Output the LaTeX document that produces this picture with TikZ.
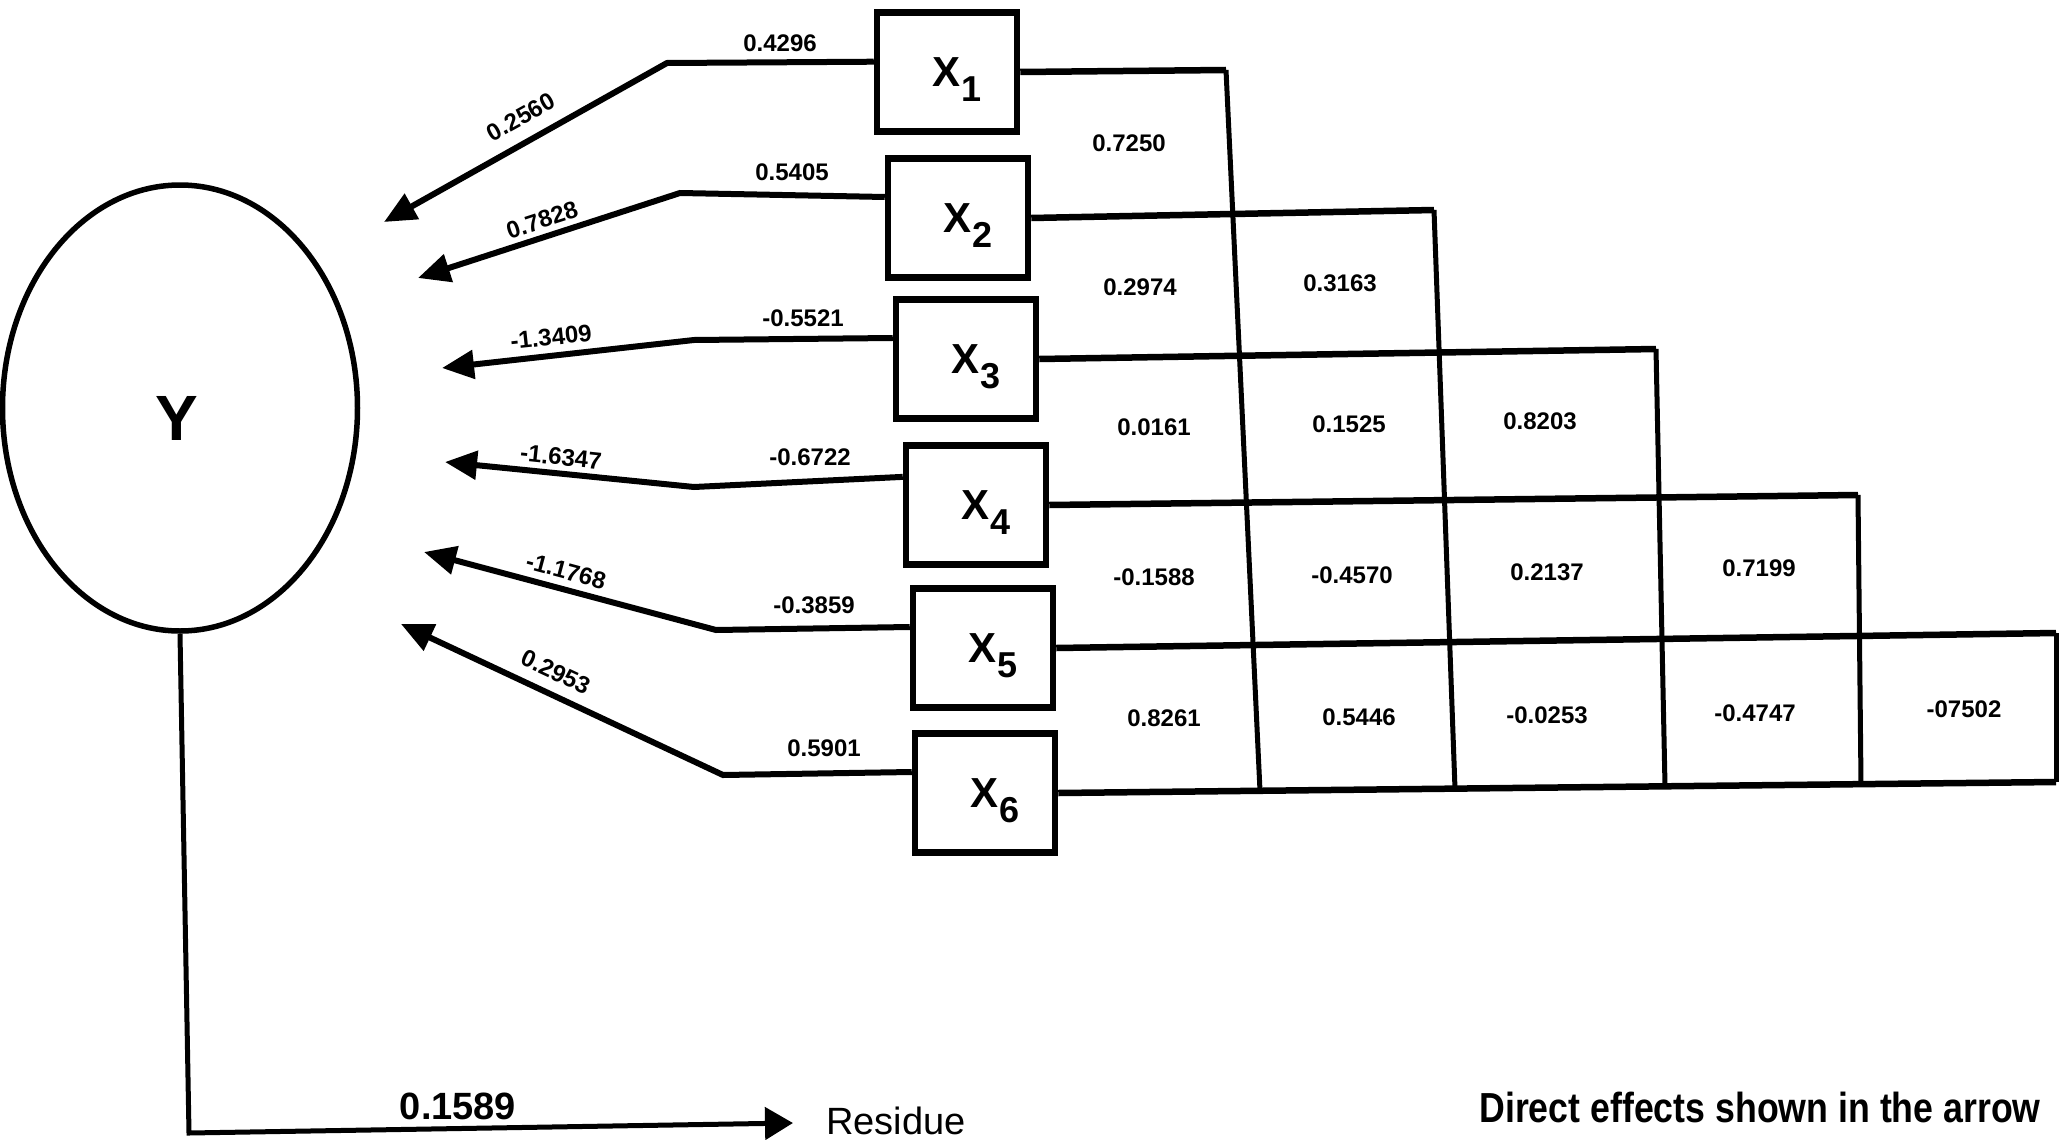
\documentclass[tikz,border=0pt]{standalone}
\usepackage{fontspec}
\setmainfont{Liberation Sans}
\usetikzlibrary{arrows.meta,shapes.geometric}
\newcommand\xlab[1]{\kern20ptX\smash{\raisebox{-15pt}{\fontsize{36}{36}\selectfont #1}}}
\begin{document}
\begin{tikzpicture}[x=1pt,y=-1pt,
  val/.style={font=\fontsize{24}{25}\selectfont\bfseries, inner sep=0pt},
  xbox/.style={draw, line width=6.5pt, minimum width=140pt, minimum height=119pt, inner sep=0pt, font=\fontsize{42}{44}\selectfont\bfseries},
  arr/.style={line width=6pt, -{Triangle[length=32pt,width=28pt]}},
  hline/.style={line width=6.5pt},
  vline/.style={line width=5pt},
  resline/.style={line width=5pt, -{Triangle[length=28pt,width=32pt]}}
]
\useasboundingbox (0,0) rectangle (2072,1140);

% dependent variable
\node[ellipse, draw, line width=5.5pt, minimum width=355pt, minimum height=446pt, inner sep=0pt] (Y) at (180,408) {};
\node[inner sep=0pt, font=\fontsize{64}{66}\selectfont\bfseries] (Ylab) at (177,418) {Y};

% predictor boxes
\node[xbox] (X1) at (947,72)  {\xlab{1}};
\node[xbox] (X2) at (958,218) {\xlab{2}};
\node[xbox] (X3) at (966,359) {\xlab{3}};
\node[xbox] (X4) at (976,505) {\xlab{4}};
\node[xbox] (X5) at (983,648) {\xlab{5}};
\node[xbox] (X6) at (985,793) {\xlab{6}};

% bends and tips of the direct-effect arrows
\coordinate (b1) at (667,63);  \coordinate (t1) at (384,222);
\coordinate (b2) at (680,193); \coordinate (t2) at (418,278);
\coordinate (b3) at (694,340); \coordinate (t3) at (442,368);
\coordinate (b4) at (694,487); \coordinate (t4) at (445,462);
\coordinate (b5) at (716,630); \coordinate (t5) at (424,552);
\coordinate (b6) at (723,775); \coordinate (t6) at (401,624);

\draw[arr] (X1.172) -- (b1) -- (t1);
\draw[arr] (X2.164) -- (b2) -- (t2);
\draw[arr] (X3.164) -- (b3) -- (t3);
\draw[arr] (X4.159) -- (b4) -- (t4);
\draw[arr] (X5.164) -- (b5) -- (t5);
\draw[arr] (X6.164) -- (b6) -- (t6);

% arrow labels
\node[val] (l1a) at (780,43)  {0.4296};
\node[val, rotate=29] (l1b) at (521,117) {0.2560};
\node[val] (l2a) at (792,172) {0.5405};
\node[val, rotate=18] (l2b) at (542,220) {0.7828};
\node[val] (l3a) at (803,318) {-0.5521};
\node[val, rotate=6] (l3b) at (551,337) {-1.3409};
\node[val] (l4a) at (810,457) {-0.6722};
\node[val, rotate=-6] (l4b) at (561,457) {-1.6347};
\node[val] (l5a) at (814,605) {-0.3859};
\node[val, rotate=-15] (l5b) at (566,571) {-1.1768};
\node[val] (l6a) at (824,748) {0.5901};
\node[val, rotate=-25] (l6b) at (556,672) {0.2953};

% correlation grid
\coordinate (c1) at (1226,70);  \coordinate (d1) at (1260,791);
\coordinate (c2) at (1434,210); \coordinate (d2) at (1455,789);
\coordinate (c3) at (1656,349); \coordinate (d3) at (1665,786);
\coordinate (c4) at (1858,495); \coordinate (d4) at (1861,784);
\coordinate (c5) at (2056,633); \coordinate (d5) at (2056,782);

\draw[hline] (X1.east) -- (c1);
\draw[hline] (X2.east) -- (c2);
\draw[hline] (X3.east) -- (c3);
\draw[hline] (X4.east) -- (c4);
\draw[hline] (X5.east) -- (c5);
\draw[hline] (X6.east) -- (d5);
\draw[vline] (c1) -- (d1);
\draw[vline] (c2) -- (d2);
\draw[vline] (c3) -- (d3);
\draw[vline] (c4) -- (d4);
\draw[vline] (c5) -- (d5);

\node[val] (r11) at (1129,143) {0.7250};
\node[val] (r21) at (1140,287) {0.2974};
\node[val] (r22) at (1340,283) {0.3163};
\node[val] (r31) at (1154,427) {0.0161};
\node[val] (r32) at (1349,424) {0.1525};
\node[val] (r33) at (1540,421) {0.8203};
\node[val] (r41) at (1154,577) {-0.1588};
\node[val] (r42) at (1352,575) {-0.4570};
\node[val] (r43) at (1547,572) {0.2137};
\node[val] (r44) at (1759,568) {0.7199};
\node[val] (r51) at (1164,718) {0.8261};
\node[val] (r52) at (1359,717) {0.5446};
\node[val] (r53) at (1547,715) {-0.0253};
\node[val] (r54) at (1755,713) {-0.4747};
\node[val] (r55) at (1964,709) {-07502};

% residue
\coordinate (rc) at (189,1133);
\coordinate (rtip) at (793,1123);
\draw[resline] (Y.south) -- (rc) -- (rtip);
\node[anchor=base, inner sep=0pt, font=\fontsize{38}{40}\selectfont\bfseries] (rv) at (458,1119) {0.1589};
\node[anchor=base west, inner sep=0pt, font=\fontsize{38}{40}\selectfont] (res) at (826,1134) {Residue};

% note
\node[anchor=base, inner sep=0pt, font=\fontsize{42}{44}\selectfont\bfseries] (note) at (1760,1122)
  {\scalebox{0.85}[1]{Direct effects shown in the arrow}};
\end{tikzpicture}
\end{document}
